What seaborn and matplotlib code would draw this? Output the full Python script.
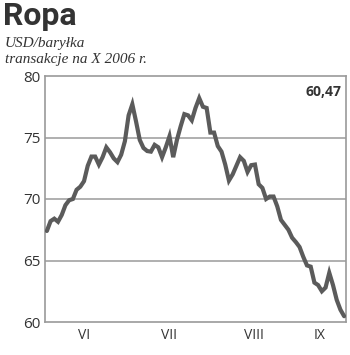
import matplotlib
matplotlib.use("Agg")
import matplotlib.pyplot as plt
import seaborn as sns
import pandas as pd
import numpy as np

# --- data -------------------------------------------------------------
prices = [67.4, 68.2, 68.4, 68.15, 68.7, 69.5, 69.9, 70.0, 70.75, 71.0,
          71.45, 72.7, 73.45, 73.45, 72.8, 73.4, 74.2, 73.8, 73.3, 73.0,
          73.6, 74.7, 76.8, 77.7, 76.3, 74.8, 74.15, 73.9, 73.85, 74.4,
          74.2, 73.4, 74.2, 75.1, 73.4, 74.8, 75.9, 76.9, 76.8, 76.4,
          77.4, 78.2, 77.5, 77.4, 75.4, 75.4, 74.3, 73.85, 72.8, 71.5,
          72.0, 72.7, 73.4, 73.1, 72.2, 72.75, 72.8, 71.2, 70.9, 70.0,
          70.2, 70.2, 69.4, 68.3, 67.9, 67.5, 66.85, 66.5, 66.1, 65.3,
          64.6, 64.5, 63.2, 63.0, 62.5, 62.8, 64.0, 63.0, 61.8, 61.0,
          60.47]
months = ["VI", "VII", "VIII", "IX"]
month_bounds = [-0.5, 20.5, 45, 66.5, 80.5]   # session index of month starts
y_ticks = [60, 65, 70, 75, 80]
last_label = "60,47"
title = "Ropa"
subtitle = "USD/baryłka\ntransakcje na X 2006 r."

df = pd.DataFrame({"session": np.arange(len(prices)), "price": prices})

# --- style ------------------------------------------------------------
sns.set_style("white")
plt.rcParams["font.family"] = ["Open Sans", "DejaVu Sans"]

fig = plt.figure(figsize=(3.5, 3.55), dpi=100)
ax = fig.add_axes([45/350, 1 - 322/355, 301/350, 246/355])

grid_c = "#9a9a9a"
for v in y_ticks[1:-1]:
    ax.axhline(v, color=grid_c, lw=1.1, zorder=1)

sns.lineplot(data=df, x="session", y="price", ax=ax, color="#5b5b5b",
             lw=3.0, zorder=3, solid_joinstyle="miter")

ax.set_xlim(month_bounds[0], month_bounds[-1])
ax.set_ylim(y_ticks[0], y_ticks[-1])
ax.set_yticks(y_ticks)
ax.set_yticklabels([str(v) for v in y_ticks], fontsize=11, color="#333333")
ax.tick_params(axis="y", length=0, pad=3)

# month separators as ticks, labels in the middle
ax.set_xticks(month_bounds[1:-1])
ax.set_xticklabels([])
ax.tick_params(axis="x", which="major", length=17, width=1.3,
               color="#444444", direction="out")
mids = [(a + b) / 2 for a, b in zip(month_bounds[:-1], month_bounds[1:])]
ax.set_xticks(mids, minor=True)
ax.set_xticklabels(months, minor=True, fontsize=10, color="#333333")
ax.tick_params(axis="x", which="minor", length=0, pad=4)

ax.set_xlabel("")
ax.set_ylabel("")
for s in ax.spines.values():
    s.set_color(grid_c)
    s.set_linewidth(1.2)

ax.text(0.985, 0.965, last_label, transform=ax.transAxes, ha="right",
        va="top", fontsize=10, fontweight="bold", color="#333333")

fig.text(3/350, 1 - 1/355, title, ha="left", va="top", fontsize=23,
         fontweight="bold", color="#333333", family=["Roboto", "DejaVu Sans"])
fig.text(5/350, 1 - 37/355, subtitle, ha="left", va="top", fontsize=11,
         style="italic", color="#333333", linespacing=1.35,
         family=["Liberation Serif", "DejaVu Serif"])

fig.savefig("out.png", dpi=100)
